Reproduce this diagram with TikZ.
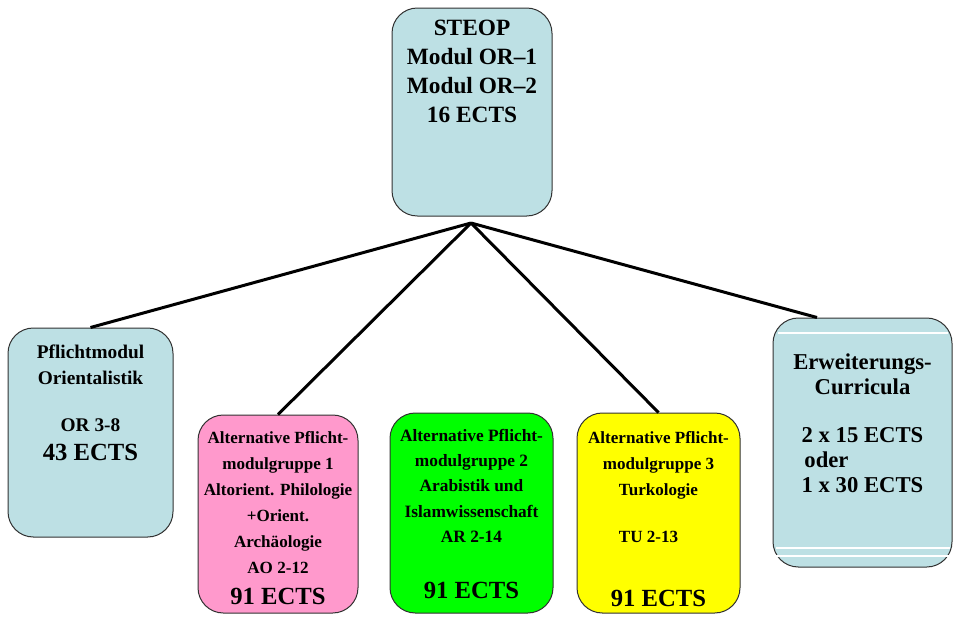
\documentclass[tikz,border=0pt]{standalone}
\usepackage{fontspec}
\setmainfont{Liberation Serif}
\usetikzlibrary{positioning}

\definecolor{steopblue}{RGB}{189,224,228}
\definecolor{altpink}{RGB}{255,153,204}
\definecolor{altgreen}{RGB}{0,255,0}
\definecolor{altyellow}{RGB}{255,255,0}
\definecolor{boxline}{RGB}{50,50,50}

\begin{document}
\begin{tikzpicture}[x=0.75pt,y=0.75pt,
  modbox/.style={draw=boxline, line width=0.75pt, rounded corners=19pt, inner sep=0pt},
  modtxt/.style={inner sep=0pt, align=center, font=\bfseries\fontsize{12.8}{19.5}\selectfont},
  ectstxt/.style={inner sep=0pt, font=\bfseries\fontsize{18.5}{20}\selectfont},
  link/.style={line width=2.25pt}]
\useasboundingbox (0,0) rectangle (956,-618);

% boxes
\node[modbox, fill=steopblue, minimum width=120pt, minimum height=156pt] (steop) at (472,-112) {};
\node[modbox, fill=steopblue, minimum width=123.75pt, minimum height=156.75pt] (pflicht) at (90.5,-432.5) {};
\node[modbox, fill=altpink, minimum width=120pt, minimum height=148.5pt] (gruppe1) at (278,-514) {};
\node[modbox, fill=altgreen, minimum width=122.25pt, minimum height=150pt] (gruppe2) at (471.5,-513) {};
\node[modbox, fill=altyellow, minimum width=122.25pt, minimum height=150pt] (gruppe3) at (658.5,-513) {};
\node[modbox, fill=steopblue, minimum width=134.25pt, minimum height=186.75pt] (erweit) at (862.5,-442.5) {};
\draw[white, line width=1pt] (778,-333) -- (948,-333);
\draw[white, line width=1pt] (776,-548) -- (950,-548);
\draw[white, line width=1pt] (776,-556) -- (950,-556);

% connectors
\coordinate (hub) at (471,-223);
\draw[link] (hub) -- (pflicht.north);
\draw[link] (hub) -- (gruppe1.north);
\draw[link] (hub) -- (gruppe3.north);
\draw[link] (hub) -- (erweit.110);

% texts
\node[modtxt, font=\bfseries\fontsize{17.5}{21.75}\selectfont, below=9.5pt of steop.north] (steoptxt)
  {STEOP\\Modul OR--1\\Modul OR--2\\16 ECTS};
\node[modtxt, font=\bfseries\fontsize{14.5}{19.5}\selectfont, below=13pt of pflicht.north] (pflichttxt)
  {Pflichtmodul\\Orientalistik\\[15.75pt]OR 3-8};
\node[ectstxt, above=57.75pt of pflicht.south] (pflichtects) {43 ECTS};
\node[modtxt, below=12.8pt of gruppe1.north] (gruppe1txt)
  {Alternative Pflicht-\\modulgruppe 1\\Altorient. Philologie\\+Orient.\\Archäologie\\AO 2-12};
\node[ectstxt, above=6.75pt of gruppe1.south] (gruppe1ects) {91 ECTS};
\node[modtxt, font=\bfseries\fontsize{13}{19}\selectfont, below=12.2pt of gruppe2.north] (gruppe2txt)
  {Alternative Pflicht-\\modulgruppe 2\\Arabistik und\\Islamwissenschaft\\AR 2-14};
\node[ectstxt, above=11.25pt of gruppe2.south] (gruppe2ects) {91 ECTS};
\node[modtxt, below=14.4pt of gruppe3.north] (gruppe3txt)
  {Alternative Pflicht-\\modulgruppe 3\\Turkologie\\[15.75pt]TU 2-13\kern15pt};
\node[ectstxt, above=5.25pt of gruppe3.south] (gruppe3ects) {91 ECTS};
\node[modtxt, font=\bfseries\fontsize{17}{18.75}\selectfont, below=27pt of erweit.north] (erweittxt)
  {Erweiterungs-\\Curricula\\[17.25pt]2 x 15 ECTS\\oder\kern54pt\\1 x 30 ECTS};
\end{tikzpicture}
\end{document}
